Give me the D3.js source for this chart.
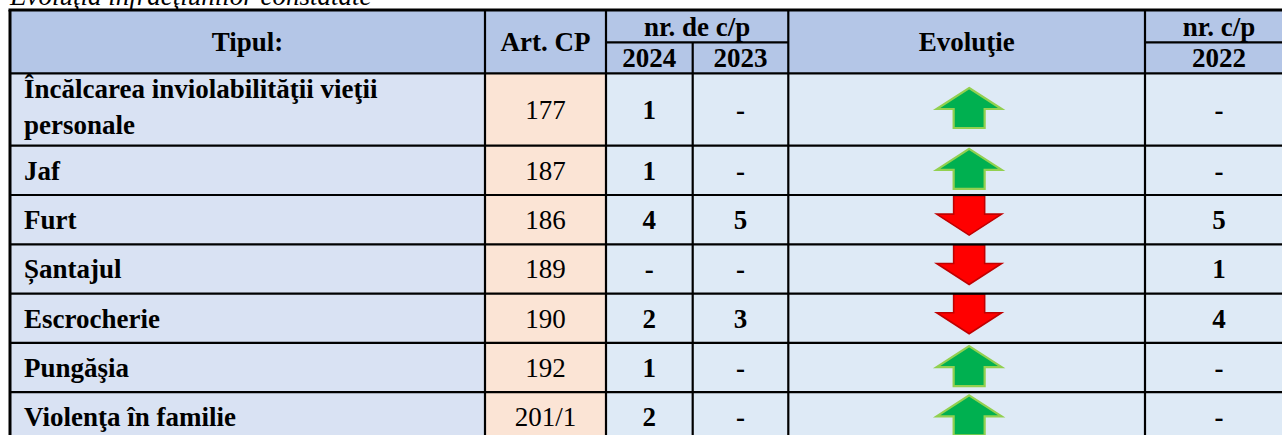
<!DOCTYPE html>
<html><head><meta charset="utf-8">
<script src="https://cdn.jsdelivr.net/npm/d3@7"></script>
<style>html,body{margin:0;padding:0;background:#fff;} svg{display:block;}</style>
</head><body>
<svg id="chart" width="1282" height="435"></svg>
<script>
// ---- data ----
const title = "Evoluţia infracţiunilor constatate";
const headers = ["Tipul:", "Art. CP", "nr. de c/p", "Evoluţie", "nr. c/p"];
const years = ["2024", "2023", "2022"];
const types = ["Încălcarea inviolabilităţii vieţii personale", "Jaf", "Furt", "Șantajul", "Escrocherie", "Pungăşia", "Violenţa în familie"];
const articles = ["177", "187", "186", "189", "190", "192", "201/1"];
const values2024 = [1, 1, 4, null, 2, 1, 2];
const values2023 = [null, null, 5, null, 3, null, null];
const values2022 = [null, null, 5, 1, 4, null, null];
const trend = ["up", "up", "down", "down", "down", "up", "up"];

// ---- layout ----
const W = 1282, H = 435;
const colEdges = [10, 485, 606, 692.7, 788.3, 1145, 1293];
const yTop = 10, yMid = 42.3, yHead = 73.3;
const rowHeights = [72.4, 49.3, 49.3, 49.3, 49.3, 49.3, 49.3];
const rowTops = [yHead, ...d3.cumsum(rowHeights).map(v => yHead + v)];
const font = "'Liberation Serif','Times New Roman',serif";
const fs = 27;
const C = {head: "#B4C6E7", tip: "#D9E2F3", cell: "#DEEAF6", art: "#FBE4D5"};

const svg = d3.select("#chart");
const idx = d3.range(types.length);
const x = i => colEdges[i];
const cx = i => (colEdges[i] + colEdges[i + 1]) / 2;
const fmt = v => v == null ? "-" : String(v);

// title (mostly cropped above)
svg.append("text").attr("x", 10).attr("y", 4.5)
  .attr("font-family", font).attr("font-style", "italic").attr("font-size", fs)
  .text(title);

// header background
svg.append("rect").attr("x", x(0)).attr("y", yTop).attr("width", x(6) - x(0)).attr("height", yHead - yTop).attr("fill", C.head);

// body cells
const colFill = [C.tip, C.art, C.cell, C.cell, C.cell, C.cell];
const rows = svg.append("g");
idx.forEach(r => {
  for (let c = 0; c < 6; c++) {
    rows.append("rect").attr("x", x(c)).attr("y", rowTops[r])
      .attr("width", x(c + 1) - x(c)).attr("height", rowHeights[r]).attr("fill", colFill[c]);
  }
});

// header text
const ht = svg.append("g").attr("font-family", font).attr("font-weight", "bold")
  .attr("font-size", fs).attr("text-anchor", "middle");
const hc = (yTop + yHead) / 2, h1 = (yTop + yMid) / 2, h2 = (yMid + yHead) / 2;
ht.append("text").attr("x", cx(0)).attr("y", hc).attr("dy", "0.35em").text(headers[0]);
ht.append("text").attr("x", cx(1)).attr("y", hc).attr("dy", "0.35em").text(headers[1]);
ht.append("text").attr("x", (x(2) + x(4)) / 2).attr("y", h1).attr("dy", "0.35em").text(headers[2]);
ht.append("text").attr("x", cx(2)).attr("y", h2).attr("dy", "0.35em").text(years[0]);
ht.append("text").attr("x", cx(3)).attr("y", h2).attr("dy", "0.35em").text(years[1]);
ht.append("text").attr("x", cx(4)).attr("y", hc).attr("dy", "0.35em").text(headers[3]);
ht.append("text").attr("x", cx(5)).attr("y", h1).attr("dy", "0.35em").text(headers[4]);
ht.append("text").attr("x", cx(5)).attr("y", h2).attr("dy", "0.35em").text(years[2]);

// body text
const bt = svg.append("g").attr("font-family", font).attr("font-size", fs);
idx.forEach(r => {
  const mid = rowTops[r] + rowHeights[r] / 2;
  // type (left, bold, wrapped)
  const t = bt.append("text").attr("x", x(0) + 14).attr("font-weight", "bold");
  const maxW = x(1) - x(0) - 24;
  const words = types[r].split(" ");
  let lines = [], cur = [];
  const probe = bt.append("text").attr("font-weight", "bold");
  words.forEach(w => {
    const test = cur.concat([w]).join(" ");
    probe.text(test);
    if (probe.node().getComputedTextLength() > maxW && cur.length) { lines.push(cur.join(" ")); cur = [w]; }
    else cur.push(w);
  });
  lines.push(cur.join(" "));
  probe.remove();
  const lh = 35.5;
  lines.forEach((ln, i) => {
    const yy = mid + (i - (lines.length - 1) / 2) * lh + (lines.length > 1 ? -3 : 0);
    t.append("tspan").attr("x", x(0) + 14).attr("y", yy).attr("dy", "0.35em").text(ln);
  });
  bt.append("text").attr("x", cx(1)).attr("y", mid).attr("dy", "0.35em").attr("text-anchor", "middle").text(articles[r]);
  [[2, values2024], [3, values2023], [5, values2022]].forEach(([c, arr]) => {
    bt.append("text").attr("x", cx(c)).attr("y", mid).attr("dy", "0.35em")
      .attr("text-anchor", "middle").attr("font-weight", "bold").text(fmt(arr[r]));
  });
});

// arrows
const upPath = d3.path();
upPath.moveTo(0, 0); upPath.lineTo(32.5, 21); upPath.lineTo(15.5, 21); upPath.lineTo(15.5, 40);
upPath.lineTo(-15.5, 40); upPath.lineTo(-15.5, 21); upPath.lineTo(-32.5, 21); upPath.closePath();
const downPath = d3.path();
downPath.moveTo(-15.5, 0); downPath.lineTo(15.5, 0); downPath.lineTo(15.5, 18.5); downPath.lineTo(32.5, 18.5);
downPath.lineTo(0, 39.5); downPath.lineTo(-32.5, 18.5); downPath.lineTo(-15.5, 18.5); downPath.closePath();
const ag = svg.append("g");
idx.forEach(r => {
  const mid = rowTops[r] + rowHeights[r] / 2;
  const ax = cx(4) + 2.5;
  if (trend[r] === "up") {
    ag.append("path").attr("d", upPath.toString())
      .attr("transform", `translate(${ax},${mid - 21.5})`)
      .attr("fill", "#00B050").attr("stroke", "#92D050").attr("stroke-width", 2.2).attr("stroke-linejoin", "miter");
  } else {
    ag.append("path").attr("d", downPath.toString())
      .attr("transform", `translate(${ax},${mid - 24})`)
      .attr("fill", "#FF0000").attr("stroke", "#C00000").attr("stroke-width", 1.6).attr("stroke-linejoin", "miter");
  }
});

// grid lines
const lg = svg.append("g").attr("stroke", "#000").attr("stroke-width", 2.2);
const bottom = rowTops[rowTops.length - 1];
// horizontal
lg.append("line").attr("x1", x(0) - 1.5).attr("x2", x(6)).attr("y1", yTop).attr("y2", yTop).attr("stroke-width", 3);
lg.append("line").attr("x1", x(2)).attr("x2", x(4)).attr("y1", yMid).attr("y2", yMid);
lg.append("line").attr("x1", x(5)).attr("x2", x(6)).attr("y1", yMid).attr("y2", yMid);
rowTops.forEach(y => lg.append("line").attr("x1", x(0)).attr("x2", x(6)).attr("y1", y).attr("y2", y));
// vertical
lg.append("line").attr("x1", x(0)).attr("x2", x(0)).attr("y1", yTop).attr("y2", bottom).attr("stroke-width", 3);
[1, 2, 4, 5, 6].forEach(c => lg.append("line").attr("x1", x(c)).attr("x2", x(c)).attr("y1", yTop).attr("y2", bottom));
lg.append("line").attr("x1", x(3)).attr("x2", x(3)).attr("y1", yMid).attr("y2", bottom);
</script>
</body></html>
